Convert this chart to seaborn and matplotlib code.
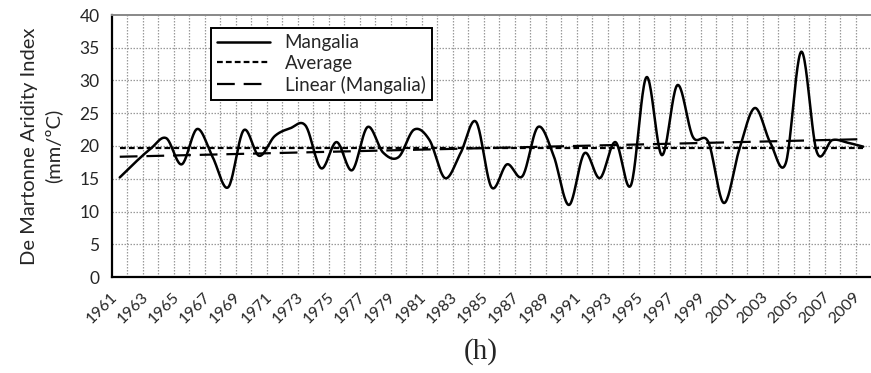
import numpy as np
import pandas as pd
import matplotlib
matplotlib.use("Agg")
import matplotlib.pyplot as plt
from matplotlib.lines import Line2D
from matplotlib.ticker import MultipleLocator, FixedLocator
import seaborn as sns

years = list(range(1961, 2010))
mangalia = [15.2, 17.5, 19.6, 21.2, 17.2, 22.6, 18.3, 13.7, 22.4, 18.5,
            21.5, 22.7, 23.1, 16.6, 20.6, 16.3, 22.9, 19.0, 18.3, 22.5,
            20.9, 15.1, 18.9, 23.7, 13.7, 17.2, 15.4, 22.9, 18.6, 11.0,
            18.9, 15.1, 20.6, 14.0, 30.5, 18.6, 29.3, 21.4, 20.6, 11.3,
            19.5, 25.8, 20.5, 17.4, 34.4, 19.1, 20.9, 20.5, 19.9]
tick_labels = [str(y) for y in years[::2]]

df = pd.DataFrame({"year": years, "value": mangalia})
df["idx"] = np.arange(len(df))

# Excel-like smoothed curve (Catmull-Rom style Bezier)
def smooth(x, y, n=24):
    P = np.column_stack([x, y]).astype(float)
    out = []
    m = len(P)
    for i in range(m - 1):
        p0 = P[max(i - 1, 0)]
        p1 = P[i]
        p2 = P[i + 1]
        p3 = P[min(i + 2, m - 1)]
        c1 = p1 + (p2 - p0) / 6.0
        c2 = p2 - (p3 - p1) / 6.0
        t = np.linspace(0, 1, n, endpoint=(i == m - 2))[:, None]
        b = ((1 - t) ** 3) * p1 + 3 * ((1 - t) ** 2) * t * c1 + 3 * (1 - t) * t ** 2 * c2 + t ** 3 * p2
        out.append(b)
    out = np.vstack(out)
    return out[:, 0], out[:, 1]

sx, sy = smooth(df["idx"].values, df["value"].values)
sm = pd.DataFrame({"x": sx, "y": sy})

avg = np.mean(mangalia)
slope, icpt = np.polyfit(df["idx"].values, df["value"].values, 1)
df["avg"] = avg
df["lin"] = icpt + slope * df["idx"]

sns.set_theme(style="white")
plt.rcParams["font.family"] = ["Lato", "DejaVu Sans"]

fig = plt.figure(figsize=(8.71, 3.73), dpi=100)
ax = fig.add_axes([112 / 871, 96 / 373, 759 / 871, 262 / 373])

grid_kw = dict(color="#9a9a9a", linestyle=(0, (1.2, 1.2)), linewidth=0.9, zorder=0)
for v in range(5, 40, 5):
    ax.axhline(v, **grid_kw)
for b in np.arange(0.5, 48.5, 1.0):
    ax.axvline(b, **grid_kw)

sns.lineplot(data=df, x="idx", y="avg", ax=ax, color="black", linewidth=1.6,
             linestyle=(0, (2.6, 1.4)), zorder=3)
sns.lineplot(data=df, x="idx", y="lin", ax=ax, color="black", linewidth=1.6,
             linestyle=(0, (8, 4)), zorder=3)
sns.lineplot(data=sm, x="x", y="y", ax=ax, color="black", linewidth=1.8,
             sort=False, estimator=None, zorder=4)

ax.set_xlim(-0.5, 48.5)
ax.set_ylim(0, 40)
ax.yaxis.set_major_locator(MultipleLocator(5))
ax.set_xticks(np.arange(0, 49, 2))
ax.set_xticklabels(tick_labels, rotation=45, ha="right", va="top",
                   rotation_mode="default", fontsize=11.5)
ax.xaxis.set_minor_locator(FixedLocator(np.arange(0.5, 48.5, 1.0)))
ax.tick_params(axis="x", which="major", length=0, pad=9)
ax.tick_params(axis="x", which="minor", length=6, width=1.3, direction="inout", color="black")
ax.tick_params(axis="y", which="major", length=5, width=1.3, direction="out", color="black",
               labelsize=12.5, pad=4)
ax.set_xlabel("")
ax.set_ylabel("De Martonne Aridity Index\n(mm/ºC)", fontsize=14.5, labelpad=12, linespacing=1.45)

for s in ["left", "bottom"]:
    ax.spines[s].set_color("black")
    ax.spines[s].set_linewidth(1.6)
ax.spines["top"].set_color("#888888")
ax.spines["top"].set_linewidth(1.4)
ax.spines["right"].set_visible(False)

handles = [
    Line2D([], [], color="black", linewidth=1.8),
    Line2D([], [], color="black", linewidth=1.6, linestyle=(0, (2.6, 1.4))),
    Line2D([], [], color="black", linewidth=1.6, linestyle=(0, (8, 4))),
]
leg = ax.legend(handles, ["Mangalia", "Average", "Linear (Mangalia)"],
                loc="upper left", bbox_to_anchor=(0.130, 0.952), fontsize=13.5,
                frameon=True, fancybox=False, framealpha=1, edgecolor="black",
                handlelength=2.8, handletextpad=0.8, labelspacing=0.2,
                borderpad=0.35, borderaxespad=0)
leg.get_frame().set_linewidth(1.4)

fig.text(481 / 871, 1 - 352 / 373, "(h)", fontsize=21, family="Liberation Serif",
         ha="center", va="center")

fig.savefig("out.png", dpi=100)
